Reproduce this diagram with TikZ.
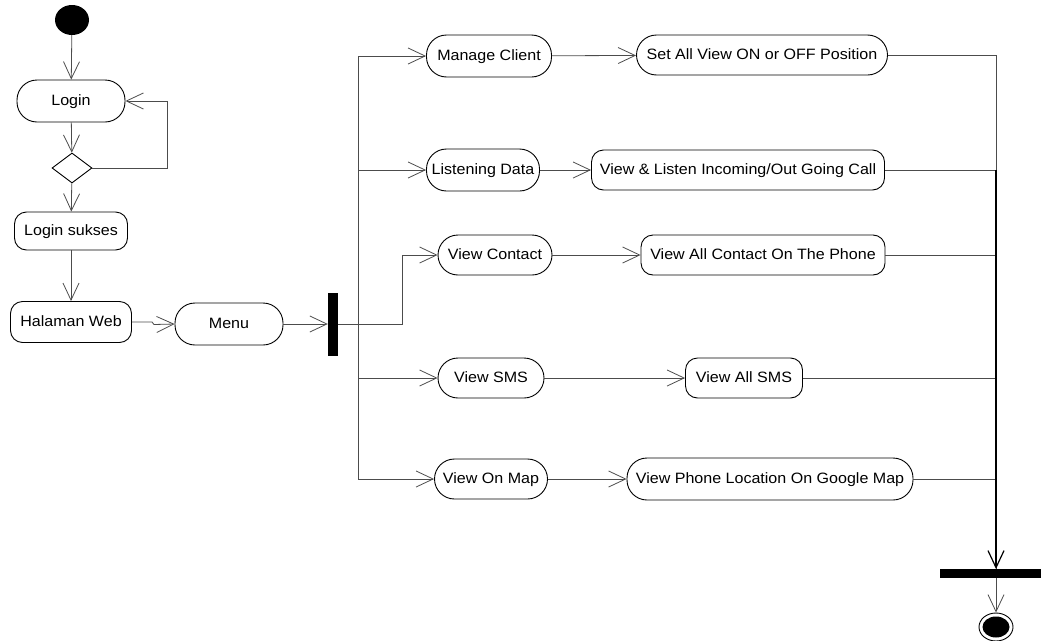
\documentclass[tikz,border=0pt]{standalone}
\usepackage{fontspec}
\setmainfont[FakeStretch=1.07]{Liberation Sans}
\usetikzlibrary{arrows.meta,shapes.geometric}
\begin{document}
\begin{tikzpicture}[x=1pt,y=-1pt,
  font=\fontsize{15}{18}\selectfont,
  act/.style={draw=black,line width=0.9pt,rounded corners=20pt,inner sep=0pt,minimum height=42pt,text depth=1pt},
  actr/.style={draw=black,line width=0.9pt,rounded corners=12pt,inner sep=0pt,minimum height=41pt,text depth=1pt},
  conn/.style={draw=black!70,line width=0.8pt},
  flow/.style={conn,-{Straight Barb[length=17pt,width=16pt,line width=0.8pt]}},
  bar/.style={fill=black,inner sep=0pt}]
\useasboundingbox (0,0) rectangle (1046,640);

% left column
\node[fill=black,ellipse,minimum width=34pt,minimum height=30pt,inner sep=0pt] (start) at (72,20) {};
\node[act,minimum width=108pt] (login) at (71,101) {Login};
\node[draw=black,line width=0.9pt,diamond,minimum width=40pt,minimum height=30pt,inner sep=0pt] (dec) at (72,168) {};
\node[actr,minimum width=113pt,minimum height=38pt] (ls) at (71,231) {Login sukses};
\node[actr,minimum width=121pt] (hw) at (71,322) {Halaman Web};
\node[act,minimum width=108pt] (menu) at (229,324) {Menu};
\node[bar,minimum width=10pt,minimum height=63pt] (fork) at (333,324.5) {};

\draw[flow] (start) -- (login);
\draw[flow] (login) -- (dec);
\draw[flow] (dec.east) -- (167,168) -- (167,101) -- (login.east);
\draw[flow] (dec) -- (ls);
\draw[flow] (ls) -- (hw);
\draw[flow] (hw.east) -- (152,322) -- (154,324.5) -- (menu.west);
\draw[flow] (menu.east) -- (fork.west |- menu.east);

% branches
\node[act,minimum width=125pt] (mc) at (489,56) {Manage Client};
\node[act,minimum width=251pt,minimum height=40pt] (sa) at (762,55) {Set All View ON or OFF Position};
\node[act,minimum width=113pt] (ld) at (483,170) {Listening Data};
\node[actr,minimum width=293pt,minimum height=40pt] (vl) at (738,170) {View \& Listen Incoming/Out Going Call};
\node[act,minimum width=114pt,minimum height=40pt] (vc) at (495,255) {View Contact};
\node[actr,minimum width=244pt,minimum height=40pt] (vac) at (763,255) {View All Contact On The Phone};
\node[act,minimum width=106pt,minimum height=40pt] (vs) at (491,378) {View SMS};
\node[actr,minimum width=117pt,minimum height=40pt] (vas) at (744,378) {View All SMS};
\node[act,minimum width=113pt,minimum height=40pt] (vm) at (491,479) {View On Map};
\node[act,minimum width=286pt,minimum height=42pt] (vpl) at (770,479) {View Phone Location On Google Map};

\coordinate (sp) at (358,324.5);
\draw[conn] (fork.east |- sp) -- (402,324.5);
\draw[flow] (sp) |- (mc.west);
\draw[flow] (sp) |- (ld.west);
\draw[flow] (sp) |- (vs.west);
\draw[flow] (sp) |- (vm.west);
\draw[flow] (402,324.5) |- (vc.west);

\draw[flow] (mc) -- (sa);
\draw[flow] (ld) -- (vl);
\draw[flow] (vc) -- (vac);
\draw[flow] (vs) -- (vas);
\draw[flow] (vm) -- (vpl);

% join
\node[bar,minimum width=101pt,minimum height=9pt] (join) at (990,573.5) {};
\coordinate (jn) at (996,569);
\coordinate (js) at (996,578);
\draw[conn] (sa.east) -| (jn);
\draw[conn] (vl.east) -| (jn);
\draw[conn] (vac.east) -| (jn);
\draw[conn] (vas.east) -| (jn);
\draw[conn] (vpl.east) -| (jn);
\draw[line width=1.6pt,-{Straight Barb[length=17pt,width=16pt,line width=1.2pt]}] (vl.east -| jn) -- (jn);

\node[draw=black,line width=0.9pt,ellipse,minimum width=34pt,minimum height=28pt,inner sep=0pt] (end) at (996,627) {};
\fill (end.center) ellipse (13.5 and 10.5);
\draw[flow] (js) -- (end.north);
\end{tikzpicture}
\end{document}
